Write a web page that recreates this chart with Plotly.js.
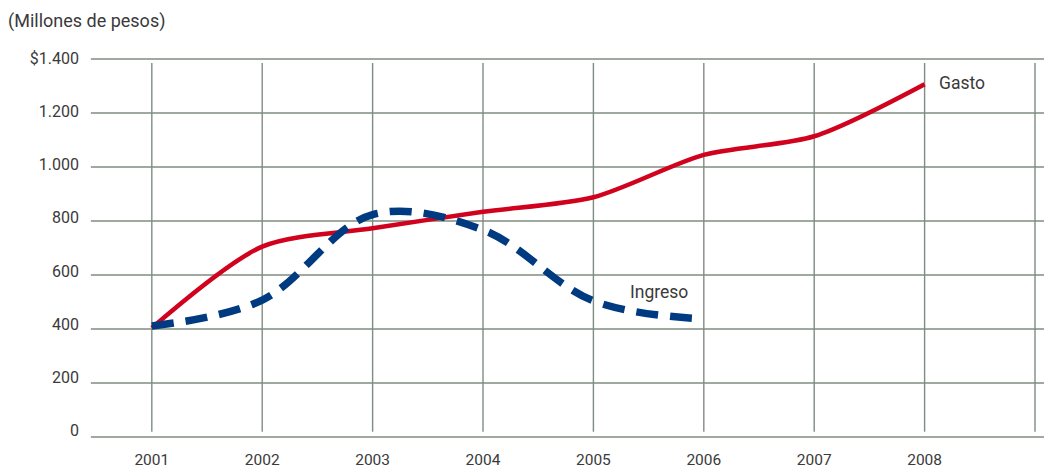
<!DOCTYPE html>
<html>
<head>
<meta charset="utf-8">
<script src="https://cdn.plot.ly/plotly-3.0.1.min.js"></script>
<style>
  html, body { margin: 0; padding: 0; background: #ffffff; }
  #chart { width: 1044px; height: 468px; }
</style>
</head>
<body>
<div id="chart"></div>
<script>
// Gasto e ingreso anuales, en millones de pesos
const years = [2001, 2002, 2003, 2004, 2005, 2006, 2007, 2008];
const gasto = [404, 705, 773, 834, 888, 1045, 1114, 1307];
const ingreso = [411, 507, 824, 767, 504, 437];
const yTickVals = [0, 200, 400, 600, 800, 1000, 1200, 1400];
const yTickText = ['0', '200', '400', '600', '800', '1.000', '1.200', '$1.400'];
const gridYears = [2001, 2002, 2003, 2004, 2005, 2006, 2007, 2008, 2009];

const textColor = '#3a3a3a';
const gridColor = '#7f8c81';
const family = 'Roboto, "Open Sans", sans-serif';
const font = { family: family, size: 16, color: textColor };

const traces = [
  {
    x: years, y: gasto, type: 'scatter', mode: 'lines', name: 'Gasto',
    line: { color: '#d0021e', width: 4.5, shape: 'spline', smoothing: 0.8 },
    hoverinfo: 'skip'
  },
  {
    x: years.slice(0, ingreso.length), y: ingreso, type: 'scatter', mode: 'lines', name: 'Ingreso',
    line: { color: '#003a80', width: 7.5, dash: '22px,12px', shape: 'spline', smoothing: 1 },
    hoverinfo: 'skip'
  },
  // carries the value scale used for the left-hand labels
  {
    x: [years[0]], y: [yTickVals[0]], yaxis: 'y2', type: 'scatter', mode: 'markers',
    marker: { opacity: 0, size: 1 }, hoverinfo: 'skip', showlegend: false
  }
];

// horizontal rules at every value step, vertical rules at every year
const shapes = [];
yTickVals.forEach(v => shapes.push({
  type: 'line', xref: 'paper', yref: 'y', x0: 0.003, x1: 1, y0: v, y1: v,
  line: { color: gridColor, width: 1.4 }, layer: 'below'
}));
gridYears.forEach(yr => shapes.push({
  type: 'line', xref: 'x', yref: 'paper', x0: yr, x1: yr, y0: 0.024, y1: 0.979,
  line: { color: gridColor, width: 1.4 }, layer: 'below'
}));

const layout = {
  width: 1044, height: 468,
  margin: { l: 88, r: 0, t: 55, b: 27, pad: 0 },
  paper_bgcolor: '#ffffff', plot_bgcolor: '#ffffff',
  font: font,
  showlegend: false,
  title: {
    text: '(Millones de pesos)', font: { family: family, size: 18, color: textColor },
    xref: 'container', yref: 'container', x: 8 / 1044, xanchor: 'left',
    y: 1 - 21 / 468, yanchor: 'middle'
  },
  xaxis: {
    range: [2000.422, 2009.0815], fixedrange: true,
    tickmode: 'array', tickvals: years, ticktext: years.map(String),
    showgrid: false, zeroline: false, showline: false, ticks: '',
    ticklabelstandoff: 7, tickfont: { family: family, size: 15.5, color: textColor }
  },
  yaxis: {
    range: [-15, 1415], fixedrange: true,
    showgrid: false, zeroline: false, showline: false, ticks: '',
    showticklabels: false
  },
  yaxis2: {
    overlaying: 'y', side: 'left', range: [-39.7, 1412.6], fixedrange: true,
    tickmode: 'array', tickvals: yTickVals, ticktext: yTickText,
    showgrid: false, zeroline: false, showline: false, ticks: '',
    ticklabelstandoff: 8, tickfont: font
  },
  shapes: shapes,
  annotations: [
    {
      x: years[years.length - 1], y: gasto[gasto.length - 1], xref: 'x', yref: 'y',
      text: 'Gasto', showarrow: false, xanchor: 'left', yanchor: 'middle',
      xshift: 12, yshift: 1, font: { family: family, size: 17.5, color: textColor }
    },
    {
      x: years[ingreso.length - 1], y: ingreso[ingreso.length - 1], xref: 'x', yref: 'y',
      text: 'Ingreso', showarrow: false, xanchor: 'center', yanchor: 'middle',
      xshift: -45, yshift: 27, font: { family: family, size: 17.5, color: textColor }
    }
  ]
};

Plotly.newPlot('chart', traces, layout, { staticPlot: true, displayModeBar: false });
</script>
</body>
</html>
